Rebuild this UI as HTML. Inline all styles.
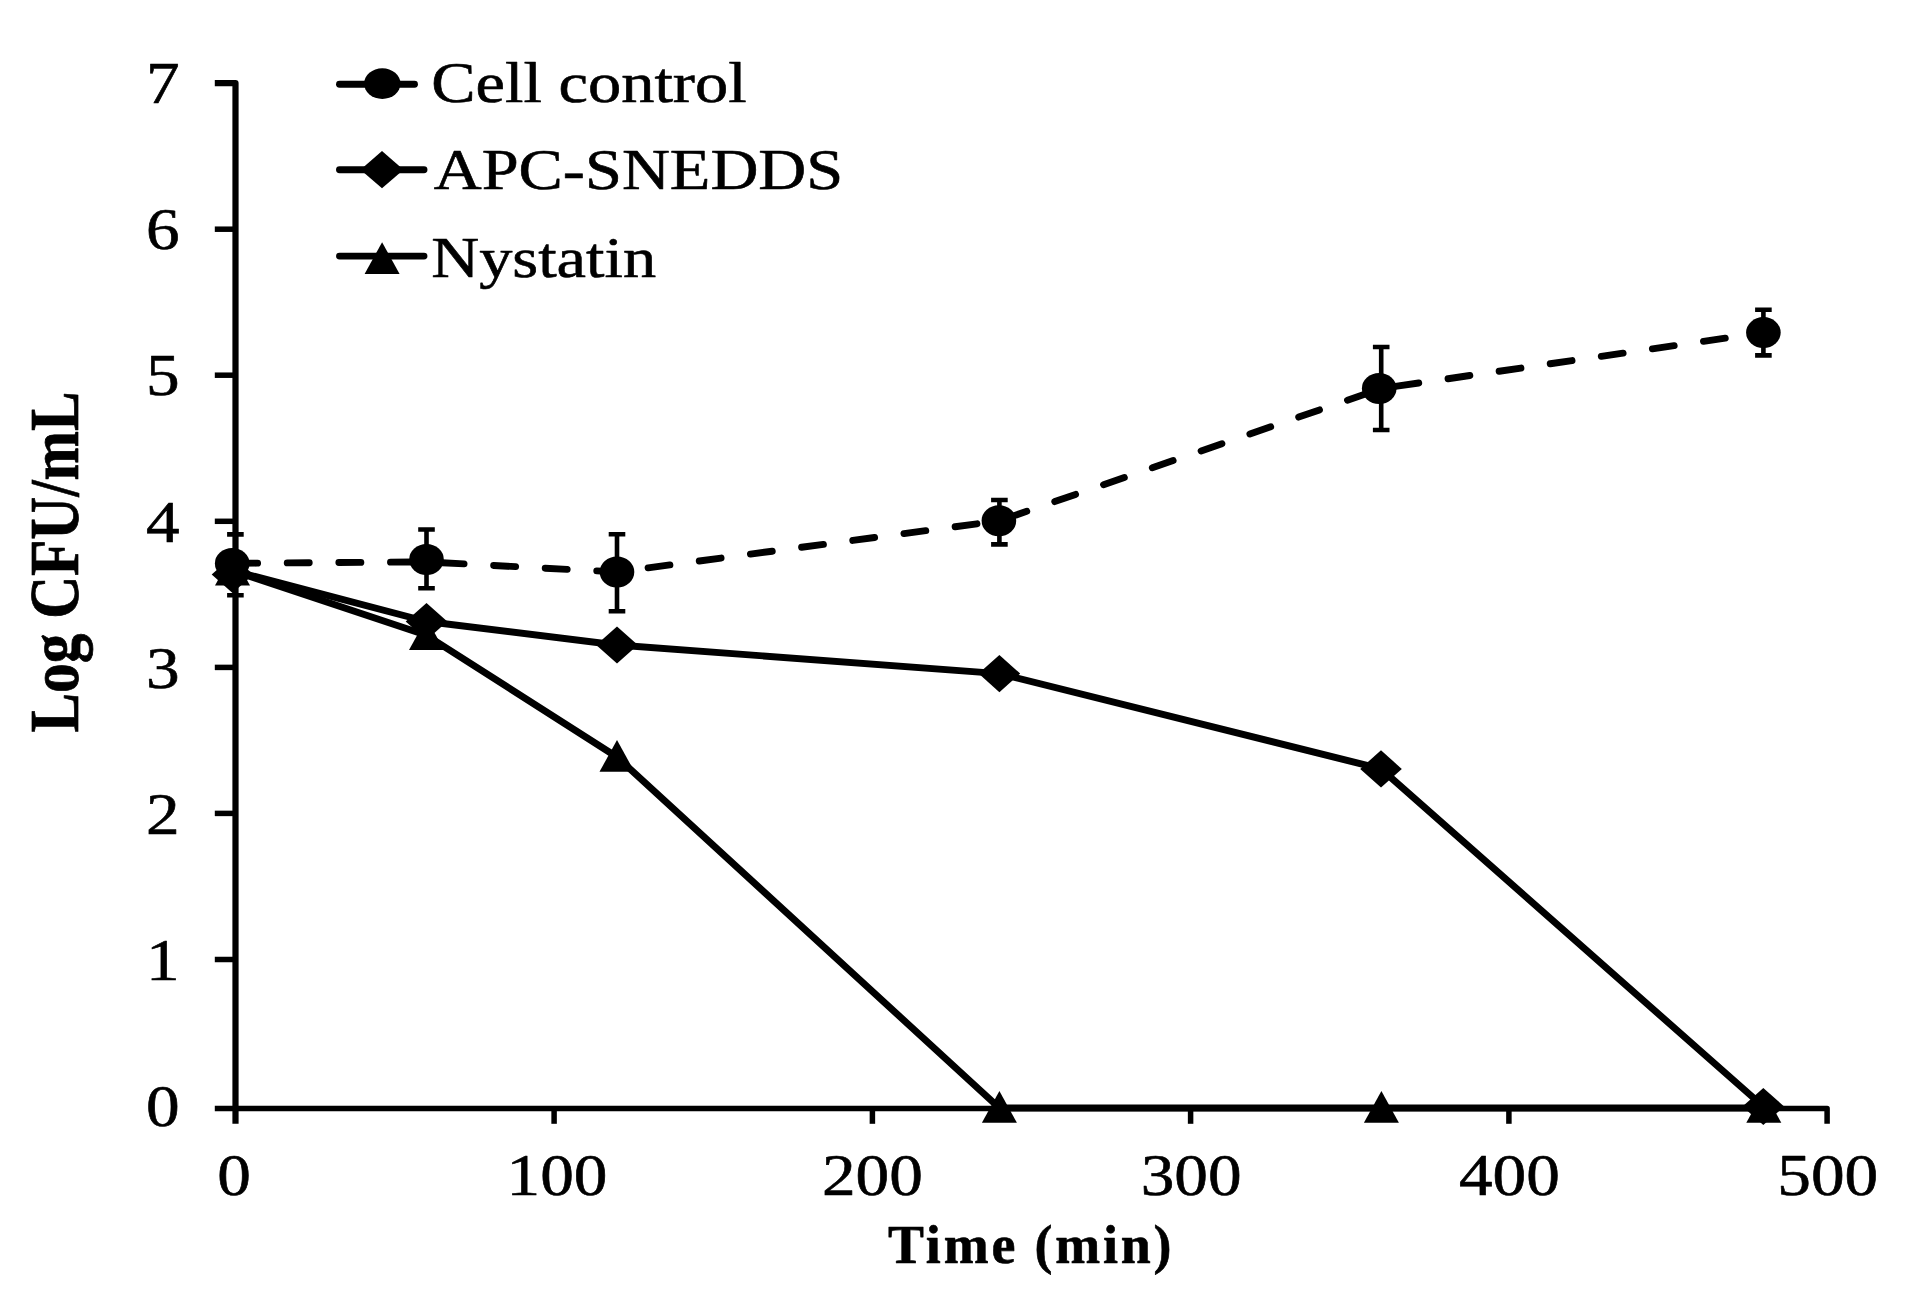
<!DOCTYPE html>
<html lang="en"><head><meta charset="utf-8"><title>Time-kill chart</title>
<style>html,body{margin:0;padding:0;background:#fff;}body{width:1932px;height:1300px;overflow:hidden;}svg{display:block;filter:blur(0.55px);}text{font-family:"Liberation Serif", serif;fill:#000;stroke:#000;stroke-width:0.6px;stroke-linejoin:round;}</style>
</head><body>
<svg width="1932" height="1300" viewBox="0 0 1932 1300">
<rect width="1932" height="1300" fill="#fff"/>
<g stroke="#000" fill="none" stroke-linecap="butt">
<path d="M214.8 83.1H235.5V1123.8" stroke-width="6.2" stroke-linejoin="round"/>
<path d="M214.8 1108.4H1827.1V1123.8" stroke-width="5.5" stroke-linejoin="round"/>
<line x1="214.8" y1="959.5" x2="235.5" y2="959.5" stroke-width="5.5"/>
<line x1="214.8" y1="813.4" x2="235.5" y2="813.4" stroke-width="5.5"/>
<line x1="214.8" y1="667.4" x2="235.5" y2="667.4" stroke-width="5.5"/>
<line x1="214.8" y1="521.3" x2="235.5" y2="521.3" stroke-width="5.5"/>
<line x1="214.8" y1="375.2" x2="235.5" y2="375.2" stroke-width="5.5"/>
<line x1="214.8" y1="229.2" x2="235.5" y2="229.2" stroke-width="5.5"/>
<line x1="554.1" y1="1108" x2="554.1" y2="1123.8" stroke-width="5.5"/>
<line x1="872.4" y1="1108" x2="872.4" y2="1123.8" stroke-width="5.5"/>
<line x1="1190.6" y1="1108" x2="1190.6" y2="1123.8" stroke-width="5.5"/>
<line x1="1508.9" y1="1108" x2="1508.9" y2="1123.8" stroke-width="5.5"/>
</g>
<text transform="translate(179.6,1126.4) scale(1.140,1)" font-size="59" text-anchor="end">0</text>
<text transform="translate(179.6,979.7) scale(1.140,1)" font-size="59" text-anchor="end">1</text>
<text transform="translate(179.6,833.6) scale(1.140,1)" font-size="59" text-anchor="end">2</text>
<text transform="translate(179.6,687.6) scale(1.140,1)" font-size="59" text-anchor="end">3</text>
<text transform="translate(179.6,541.5) scale(1.140,1)" font-size="59" text-anchor="end">4</text>
<text transform="translate(179.6,395.4) scale(1.140,1)" font-size="59" text-anchor="end">5</text>
<text transform="translate(179.6,249.4) scale(1.140,1)" font-size="59" text-anchor="end">6</text>
<text transform="translate(179.6,103.3) scale(1.140,1)" font-size="59" text-anchor="end">7</text>
<text transform="translate(234.1,1194.7) scale(1.140,1)" font-size="59" text-anchor="middle">0</text>
<text transform="translate(557.0,1194.7) scale(1.140,1)" font-size="59" text-anchor="middle">100</text>
<text transform="translate(872.4,1194.7) scale(1.140,1)" font-size="59" text-anchor="middle">200</text>
<text transform="translate(1191.1,1194.7) scale(1.140,1)" font-size="59" text-anchor="middle">300</text>
<text transform="translate(1509.4,1194.7) scale(1.140,1)" font-size="59" text-anchor="middle">400</text>
<text transform="translate(1827.8,1194.7) scale(1.140,1)" font-size="59" text-anchor="middle">500</text>
<text transform="translate(1031.2,1263) scale(0.98,1)" font-size="55" font-weight="bold" text-anchor="middle" letter-spacing="2.9">Time (min)</text>
<text transform="translate(77.7,732.5) rotate(-90) scale(1.023,1.20)" font-size="58" font-weight="bold">Log CFU/mL</text>
<g fill="#000" stroke="none">
<polyline points="233.5,570.9 426.5,635.3 617.0,757.0 999.4,1108.0 1381.4,1108.0 1763.8,1108.0" fill="none" stroke="#000" stroke-width="6.9" stroke-linejoin="round" stroke-linecap="round"/>
<polygon points="232.5,553.6 250.0,585.4 215.0,585.4"/>
<polygon points="426.5,618.3 444.0,650.1 409.0,650.1"/>
<polygon points="617.0,740.0 634.5,771.8 599.5,771.8"/>
<polygon points="999.4,1091.0 1016.9,1122.8 981.9,1122.8"/>
<polygon points="1381.4,1091.0 1398.9,1122.8 1363.9,1122.8"/>
<polygon points="1763.8,1091.0 1781.3,1122.8 1746.3,1122.8"/>
<polyline points="233.5,570.8 426.5,621.5 617.0,645.0 999.4,673.6 1381.0,768.9 1763.3,1106.5" fill="none" stroke="#000" stroke-width="6.9" stroke-linejoin="round" stroke-linecap="round"/>
<polygon points="232.5,555.9 253.3,574.5 232.5,593.1 211.7,574.5"/>
<polygon points="426.5,602.9 447.3,621.5 426.5,640.1 405.7,621.5"/>
<polygon points="617.0,626.4 637.8,645.0 617.0,663.6 596.2,645.0"/>
<polygon points="999.4,655.0 1020.2,673.6 999.4,692.2 978.6,673.6"/>
<polygon points="1381.0,750.3 1401.8,768.9 1381.0,787.5 1360.2,768.9"/>
<polygon points="1763.3,1087.9 1784.1,1106.5 1763.3,1125.1 1742.5,1106.5"/>
<polyline points="235.6,563.3 426.5,561.9 617.0,572.0 999.4,520.8 1381.2,388.5 1763.4,332.6" fill="none" stroke="#000" stroke-width="6.9" stroke-linejoin="round" stroke-linecap="round" stroke-dasharray="22 29.63"/>
<path d="M235.4 534.4V595.3M227.1 534.4H243.7M227.1 595.3H243.7" fill="none" stroke="#000" stroke-width="4.6"/>
<ellipse cx="232.2" cy="563.5" rx="17.3" ry="15.5"/>
<path d="M426.5 529.5V588.2M418.2 529.5H434.8M418.2 588.2H434.8" fill="none" stroke="#000" stroke-width="4.6"/>
<ellipse cx="426.5" cy="559.5" rx="17.3" ry="15.5"/>
<path d="M617.0 534.3V611.2M608.7 534.3H625.3M608.7 611.2H625.3" fill="none" stroke="#000" stroke-width="4.6"/>
<ellipse cx="617.0" cy="572.0" rx="17.3" ry="15.5"/>
<path d="M999.4 500.0V544.4M991.1 500.0H1007.7M991.1 544.4H1007.7" fill="none" stroke="#000" stroke-width="4.6"/>
<ellipse cx="998.9" cy="520.8" rx="17.3" ry="15.5"/>
<path d="M1381.2 347.0V430.0M1372.9 347.0H1389.5M1372.9 430.0H1389.5" fill="none" stroke="#000" stroke-width="4.6"/>
<ellipse cx="1379.2" cy="388.5" rx="17.3" ry="15.5"/>
<path d="M1763.4 309.8V355.4M1755.1 309.8H1771.7M1755.1 355.4H1771.7" fill="none" stroke="#000" stroke-width="4.6"/>
<ellipse cx="1763.4" cy="332.6" rx="17.3" ry="15.5"/>
</g>
<g fill="#000" stroke="#000" stroke-width="6.9" stroke-linecap="round">
<line x1="339.5" y1="84.2" x2="414.5" y2="84.2"/>
<ellipse cx="382.3" cy="83.6" rx="18.2" ry="15.3" stroke="none"/>
<line x1="339.5" y1="169.7" x2="424" y2="169.7"/>
<polygon points="382,151.1 403.5,169.7 382,188.3 360.5,169.7" stroke="none"/>
<line x1="339.5" y1="256.1" x2="424" y2="256.1"/>
<polygon points="382.1,242.2 399.6,273.9 364.6,273.9" stroke="none"/>
</g>
<text transform="translate(431.3,102) scale(1.145,1)" font-size="58">Cell control</text>
<text transform="translate(433.7,189.0) scale(1.145,1)" font-size="58">APC-SNEDDS</text>
<text transform="translate(431.2,277) scale(1.145,1)" font-size="58">Nystatin</text>
</svg></body></html>
